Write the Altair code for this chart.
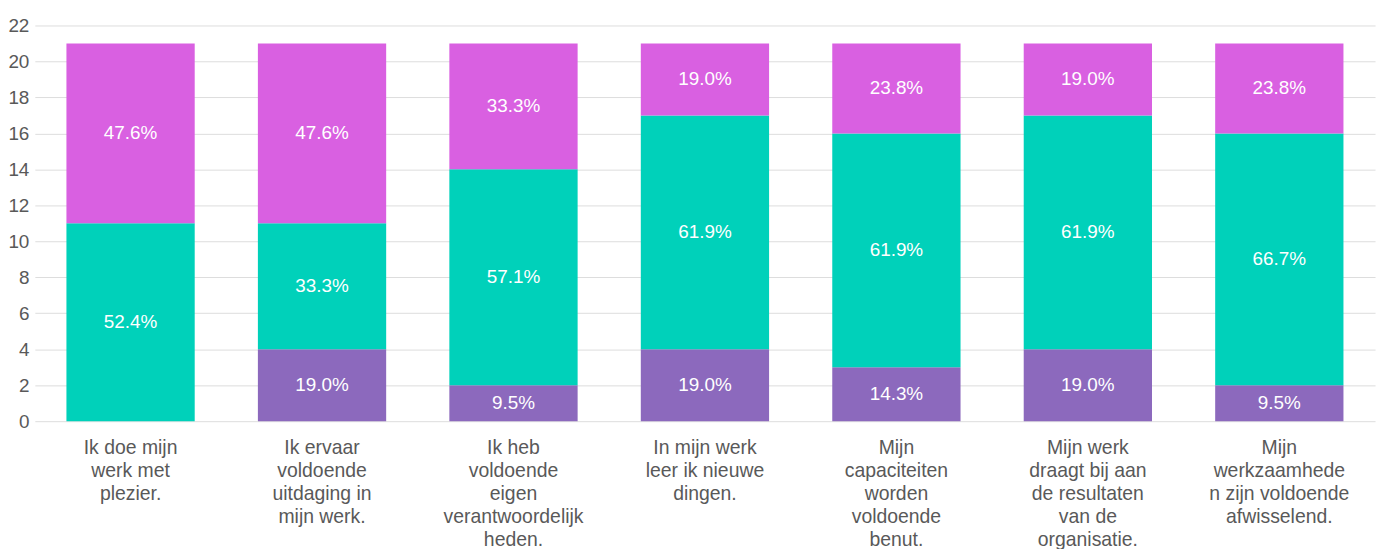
import altair as alt
import pandas as pd

categories = [
    "Ik doe mijn|werk met|plezier.",
    "Ik ervaar|voldoende|uitdaging in|mijn werk.",
    "Ik heb|voldoende|eigen|verantwoordelijk|heden.",
    "In mijn werk|leer ik nieuwe|dingen.",
    "Mijn|capaciteiten|worden|voldoende|benut.",
    "Mijn werk|draagt bij aan|de resultaten|van de|organisatie.",
    "Mijn|werkzaamhede|n zijn voldoende|afwisselend.",
]
series_names = ["s1", "s2", "s3"]
series_colors = ["#8C69BD", "#00D1BA", "#D960E1"]
s1 = [0, 4, 2, 4, 3, 4, 2]
s2 = [11, 7, 12, 13, 13, 13, 14]
s3 = [10, 10, 7, 4, 5, 4, 5]
y_ticks = list(range(0, 23, 2))

rows = []
for i, c in enumerate(categories):
    tot = s1[i] + s2[i] + s3[i]
    for k, vals in enumerate([s1, s2, s3]):
        rows.append({"cat": c, "series": series_names[k], "ord": k,
                     "value": vals[i], "total": tot})
df = pd.DataFrame(rows)

FONT = "Liberation Sans"

base = alt.Chart(df).transform_filter("datum.value > 0").transform_stack(
    stack="value", as_=["y0", "y1"], groupby=["cat"], sort=[{"field": "ord", "order": "ascending"}]
).transform_calculate(
    mid="(datum.y0 + datum.y1) / 2",
    pct="format(datum.value / datum.total * 100, '.1f') + '%'",
)

x_axis = alt.Axis(labelExpr="split(datum.label, '|')", labelAngle=0,
                  labelFontSize=19.5, labelColor="#595959", labelFont=FONT,
                  labelLineHeight=23, labelPadding=18, ticks=False,
                  domain=False, labelLimit=300, labelBaseline="top")
y_axis = alt.Axis(values=y_ticks, labelFontSize=19, labelOverlap=False,
                  labelColor="#595959", labelFont=FONT, ticks=False,
                  domain=False, gridColor="#DDDDDD", labelPadding=6)
x_scale = alt.Scale(paddingInner=0.33, paddingOuter=0.165)
y_scale = alt.Scale(domain=[0, 22], nice=False)

bars = base.mark_bar().encode(
    x=alt.X("cat:N", sort=categories, title=None, scale=x_scale, axis=x_axis),
    y=alt.Y("y0:Q", title=None, scale=y_scale, axis=y_axis),
    y2="y1:Q",
    color=alt.Color("series:N", scale=alt.Scale(domain=series_names, range=series_colors),
                    legend=None),
)

labels = base.mark_text(color="white", fontSize=19, font=FONT, baseline="middle").encode(
    x=alt.X("cat:N", sort=categories, title=None, scale=x_scale, axis=x_axis),
    y=alt.Y("mid:Q", title=None, scale=y_scale, axis=y_axis),
    text="pct:N",
)

chart = (bars + labels).properties(
    width=1348, height=398,
    autosize=alt.AutoSizeParams(type="none"),
    padding={"left": 27, "top": 16, "right": 8, "bottom": 130},
).configure_view(stroke=None)

chart.save("out.html", embed_options={"renderer": "svg", "actions": False})
